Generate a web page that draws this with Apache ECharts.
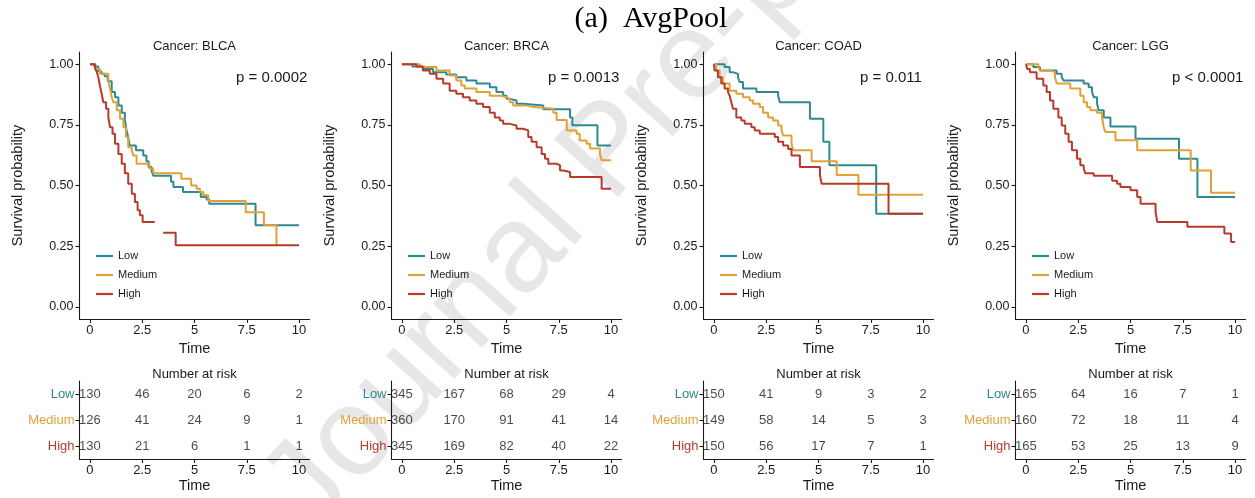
<!DOCTYPE html>
<html>
<head>
<meta charset="utf-8">
<script src="https://cdn.jsdelivr.net/npm/echarts@6/dist/echarts.min.js"></script>
<style>
  html, body { margin: 0; padding: 0; background: #fff; }
  #chart { width: 1255px; height: 498px; }
</style>
</head>
<body>
<div id="chart"></div>
<script>
// cancers and groups
const cancers = ["BLCA", "BRCA", "COAD", "LGG"];
const groups = ["Low", "Medium", "High"];
const pValues = ["p = 0.0002", "p = 0.0013", "p = 0.011", "p < 0.0001"];
const riskTimes = [0, 2.5, 5, 7.5, 10];
const xTicks = [0, 2.5, 5, 7.5, 10];
const yTicks = [0, 0.25, 0.5, 0.75, 1];

// number at risk, rows Low / Medium / High
const blcaRisk = [[130, 46, 20, 6, 2], [126, 41, 24, 9, 1], [130, 21, 6, 1, 1]];
const brcaRisk = [[345, 167, 68, 29, 4], [360, 170, 91, 41, 14], [345, 169, 82, 40, 22]];
const coadRisk = [[150, 41, 9, 3, 2], [149, 58, 14, 5, 3], [150, 56, 17, 7, 1]];
const lggRisk = [[165, 64, 16, 7, 1], [160, 72, 18, 11, 4], [165, 53, 25, 13, 9]];

// KM curves [time, survival]
const blcaLow = [[0, 1], [0.2, 0.99], [0.4, 0.97], [0.55, 0.96], [0.7, 0.95], [0.85, 0.93], [1.04, 0.885], [1.2, 0.864], [1.36, 0.83], [1.52, 0.8], [1.67, 0.77], [1.75, 0.727], [1.83, 0.7], [1.9, 0.665], [2.2, 0.645], [2.55, 0.624], [2.7, 0.6], [2.8, 0.576], [2.95, 0.56], [3.03, 0.54], [3.88, 0.515], [3.99, 0.494], [4.45, 0.473], [5.3, 0.453], [5.58, 0.442], [5.7, 0.425], [7.92, 0.336], [10, 0.336]];
const blcaMedium = [[0, 1], [0.25, 0.98], [0.48, 0.96], [0.88, 0.93], [0.96, 0.9], [1.04, 0.864], [1.12, 0.843], [1.28, 0.81], [1.44, 0.775], [1.6, 0.74], [1.72, 0.7], [1.83, 0.658], [2.0, 0.645], [2.07, 0.624], [2.23, 0.59], [2.85, 0.57], [3.03, 0.55], [4.37, 0.528], [4.84, 0.5], [5.1, 0.487], [5.26, 0.473], [5.42, 0.46], [5.66, 0.436], [7.45, 0.39], [8.32, 0.336], [8.92, 0.254]];
const blcaHigh = [[0, 1], [0.25, 0.98], [0.32, 0.97], [0.4, 0.946], [0.48, 0.91], [0.56, 0.878], [0.64, 0.843], [0.77, 0.816], [0.88, 0.78], [0.96, 0.74], [1.08, 0.713], [1.2, 0.672], [1.36, 0.63], [1.52, 0.59], [1.67, 0.55], [1.83, 0.507], [2.0, 0.466], [2.15, 0.432], [2.28, 0.398], [2.39, 0.377], [2.52, 0.35], [3.1, 0.35], [3.1, "-"], [3.5, 0.305], [4.1, 0.254], [10, 0.254]];

const brcaLow = [[0, 1], [0.5, 0.99], [1.0, 0.98], [1.49, 0.967], [2.12, 0.957], [2.6, 0.946], [3.08, 0.933], [3.56, 0.92], [4.2, 0.905], [4.52, 0.885], [4.84, 0.87], [5.0, 0.857], [5.16, 0.85], [5.48, 0.837], [5.8, 0.83], [6.76, 0.814], [8.04, 0.78], [8.15, 0.748], [9.35, 0.665], [10, 0.665]];
const brcaMedium = [[0, 1], [0.85, 0.988], [1.65, 0.974], [2.28, 0.953], [2.6, 0.933], [2.84, 0.912], [3.0, 0.9], [3.56, 0.885], [4.2, 0.87], [4.68, 0.864], [5.0, 0.857], [5.16, 0.843], [5.32, 0.83], [5.96, 0.823], [6.28, 0.816], [7.24, 0.8], [7.4, 0.77], [7.88, 0.727], [8.35, 0.713], [8.5, 0.685], [8.83, 0.672], [9.0, 0.652], [9.47, 0.63], [9.55, 0.604], [10, 0.604]];
const brcaHigh = [[0, 1], [0.69, 0.99], [1.0, 0.974], [1.33, 0.96], [1.65, 0.94], [1.97, 0.92], [2.28, 0.89], [2.6, 0.878], [2.92, 0.864], [3.24, 0.85], [3.56, 0.837], [3.88, 0.823], [4.2, 0.8], [4.44, 0.78], [4.68, 0.768], [4.84, 0.754], [5.16, 0.747], [5.48, 0.734], [5.8, 0.727], [6.04, 0.7], [6.2, 0.68], [6.44, 0.658], [6.68, 0.63], [6.84, 0.61], [7.0, 0.59], [7.4, 0.583], [7.56, 0.562], [7.72, 0.556], [8.04, 0.535], [9.55, 0.487], [10, 0.487]];

const coadLow = [[0, 1], [0.51, 0.988], [0.75, 0.967], [0.91, 0.96], [1.15, 0.946], [1.23, 0.926], [1.39, 0.9], [2.03, 0.885], [3.07, 0.87], [3.15, 0.843], [4.59, 0.775], [5.23, 0.68], [5.52, 0.583], [7.76, 0.384], [10, 0.384]];
const coadMedium = [[0, 1], [0.11, 0.974], [0.27, 0.946], [0.43, 0.92], [0.75, 0.89], [1.07, 0.878], [1.39, 0.864], [1.71, 0.85], [1.87, 0.837], [2.19, 0.823], [2.35, 0.8], [2.59, 0.78], [2.83, 0.768], [3.07, 0.747], [3.23, 0.727], [3.31, 0.706], [3.71, 0.672], [3.79, 0.645], [4.67, 0.6], [5.87, 0.543], [6.91, 0.462], [10, 0.462]];
const coadHigh = [[0, 1], [0.03, 0.974], [0.19, 0.946], [0.35, 0.92], [0.51, 0.9], [0.67, 0.885], [0.75, 0.87], [0.83, 0.843], [0.91, 0.816], [1.07, 0.78], [1.31, 0.768], [1.47, 0.754], [1.79, 0.74], [1.95, 0.727], [2.19, 0.713], [2.91, 0.7], [3.07, 0.68], [3.31, 0.665], [3.55, 0.65], [3.71, 0.624], [4.11, 0.576], [5.07, 0.542], [5.15, 0.507], [8.35, 0.384], [10, 0.384]];

const lggLow = [[0, 1], [0.35, 0.988], [0.67, 0.974], [1.47, 0.96], [1.71, 0.946], [1.8, 0.933], [2.76, 0.92], [3.0, 0.905], [3.16, 0.885], [3.24, 0.864], [3.4, 0.837], [3.48, 0.81], [3.72, 0.78], [4.04, 0.743], [5.24, 0.693], [7.32, 0.61], [8.2, 0.453], [10, 0.453]];
const lggMedium = [[0, 1], [0.59, 0.988], [0.67, 0.974], [1.15, 0.967], [1.39, 0.946], [1.47, 0.92], [2.12, 0.9], [2.6, 0.87], [2.76, 0.843], [2.92, 0.823], [3.08, 0.81], [3.4, 0.8], [3.64, 0.78], [3.72, 0.74], [3.8, 0.72], [4.28, 0.686], [5.32, 0.645], [7.88, 0.562], [8.85, 0.47], [10, 0.47]];
const lggHigh = [[0, 1], [0.06, 0.98], [0.19, 0.967], [0.51, 0.94], [0.83, 0.912], [0.99, 0.885], [1.15, 0.85], [1.31, 0.816], [1.55, 0.78], [1.71, 0.747], [1.88, 0.713], [2.04, 0.68], [2.2, 0.645], [2.44, 0.61], [2.6, 0.583], [2.76, 0.57], [2.84, 0.55], [3.24, 0.54], [4.12, 0.52], [4.36, 0.507], [4.52, 0.494], [5.0, 0.48], [5.32, 0.453], [5.48, 0.425], [6.2, 0.39], [6.28, 0.35], [7.72, 0.33], [9.49, 0.302], [9.81, 0.267], [10, 0.267]];

const curves = [
  [blcaLow, blcaMedium, blcaHigh],
  [brcaLow, brcaMedium, brcaHigh],
  [coadLow, coadMedium, coadHigh],
  [lggLow, lggMedium, lggHigh],
];
const risks = [blcaRisk, brcaRisk, coadRisk, lggRisk];

const colors = ["#2E8A92", "#E2A136", "#B73B2D"];
const FONT = "Liberation Sans, Arial, sans-serif";
const INK = "#1a1a1a";

const panelLeft = [79.5, 391.5, 703.5, 1015.5];
const panelW = 230;

const grid = [];
const xAxis = [];
const yAxis = [];
const series = [];
const legend = [];
const graphic = [];

const axisLineStyle = { color: INK, width: 1.1 };
const fmtX = (v) => String(v);

// watermark, drawn first so everything sits on top of it
graphic.push({
  type: "text",
  x: 288,
  y: 512,
  rotation: (48 * Math.PI) / 180,
  z: -10,
  silent: true,
  style: { text: "Journal Pre-proof", font: "125px " + FONT, fill: "#e7e7e7", textAlign: "left", textVerticalAlign: "middle" },
});

panelLeft.forEach((L, p) => {
  // survival plot
  grid.push({ left: L, top: 52, width: panelW, height: 267 });
  // risk table
  grid.push({ left: L, top: 381, width: panelW, height: 78 });

  [0, 1].forEach((k) => {
    xAxis.push({
      type: "value",
      gridIndex: 2 * p + k,
      min: -0.5,
      max: 10.5,
      name: "Time",
      nameLocation: "middle",
      nameGap: 19,
      nameTextStyle: { fontSize: 14.5, color: INK, fontFamily: FONT },
      splitLine: { show: false },
      axisLine: { show: true, onZero: false, lineStyle: axisLineStyle },
      axisTick: { show: true, customValues: xTicks, length: 4, lineStyle: axisLineStyle },
      axisLabel: { customValues: xTicks, formatter: fmtX, fontSize: 13, color: INK, fontFamily: FONT, margin: 5 },
    });
  });

  yAxis.push({
    type: "value",
    gridIndex: 2 * p,
    min: -0.05,
    max: 1.05,
    name: "Survival probability",
    nameLocation: "middle",
    nameGap: 54,
    nameRotate: 90,
    nameTextStyle: { fontSize: 14.5, color: INK, fontFamily: FONT },
    splitLine: { show: false },
    axisLine: { show: true, onZero: false, lineStyle: axisLineStyle },
    axisTick: { show: true, customValues: yTicks, length: 4, lineStyle: axisLineStyle },
    axisLabel: { customValues: yTicks, formatter: (v) => v.toFixed(2), fontSize: 12.5, color: INK, fontFamily: FONT, margin: 6 },
  });
  yAxis.push({
    type: "category",
    gridIndex: 2 * p + 1,
    data: ["High", "Medium", "Low"],
    boundaryGap: true,
    axisLine: { show: true, onZero: false, lineStyle: axisLineStyle },
    axisTick: { show: true, alignWithLabel: true, length: 4, lineStyle: axisLineStyle },
    axisLabel: {
      fontSize: 13,
      fontFamily: FONT,
      margin: 5,
      color: (v) => colors[groups.indexOf(v)],
    },
    splitLine: { show: false },
  });

  groups.forEach((g, i) => {
    series.push({
      name: g,
      type: "line",
      xAxisIndex: 2 * p,
      yAxisIndex: 2 * p,
      data: curves[p][i],
      step: "end",
      symbol: "none",
      showSymbol: false,
      connectNulls: false,
      color: colors[i],
      lineStyle: { width: 2, color: colors[i] },
      z: 3 + i,
    });
  });

  const tableData = [];
  groups.forEach((g, i) => {
    riskTimes.forEach((t, j) => tableData.push([t, g, risks[p][i][j]]));
  });
  series.push({
    name: "risk " + cancers[p],
    type: "scatter",
    xAxisIndex: 2 * p + 1,
    yAxisIndex: 2 * p + 1,
    symbolSize: 0,
    data: tableData,
    label: {
      show: true,
      position: "inside",
      formatter: (d) => d.value[2],
      fontSize: 13,
      color: INK,
      fontFamily: FONT,
    },
  });

  legend.push({
    left: L + 11.5,
    top: 244,
    orient: "vertical",
    icon: "rect",
    itemWidth: 17,
    itemHeight: 2.2,
    itemGap: 5,
    selectedMode: false,
    data: groups,
    textStyle: { fontSize: 11, color: INK, fontFamily: FONT, lineHeight: 14 },
  });

  graphic.push({
    type: "text",
    x: L + panelW / 2,
    y: 46,
    style: { text: "Cancer: " + cancers[p], font: "13px " + FONT, fill: INK, textAlign: "center", textVerticalAlign: "middle" },
  });
  graphic.push({
    type: "text",
    x: L + 156.5,
    y: 78,
    style: { text: pValues[p], font: "15px " + FONT, fill: INK, textAlign: "left", textVerticalAlign: "middle" },
  });
  graphic.push({
    type: "text",
    x: L + panelW / 2,
    y: 374,
    style: { text: "Number at risk", font: "13px " + FONT, fill: INK, textAlign: "center", textVerticalAlign: "middle" },
  });
});

graphic.push({
  type: "text",
  x: 651,
  y: 19,
  style: { text: "(a)  AvgPool", font: "30px Liberation Serif, Times New Roman, serif", fill: "#000", textAlign: "center", textVerticalAlign: "middle" },
});

const chart = echarts.init(document.getElementById("chart"));
chart.setOption({
  animation: false,
  backgroundColor: "#fff",
  textStyle: { fontFamily: FONT },
  grid,
  xAxis,
  yAxis,
  legend,
  series,
  graphic,
});
</script>
</body>
</html>
